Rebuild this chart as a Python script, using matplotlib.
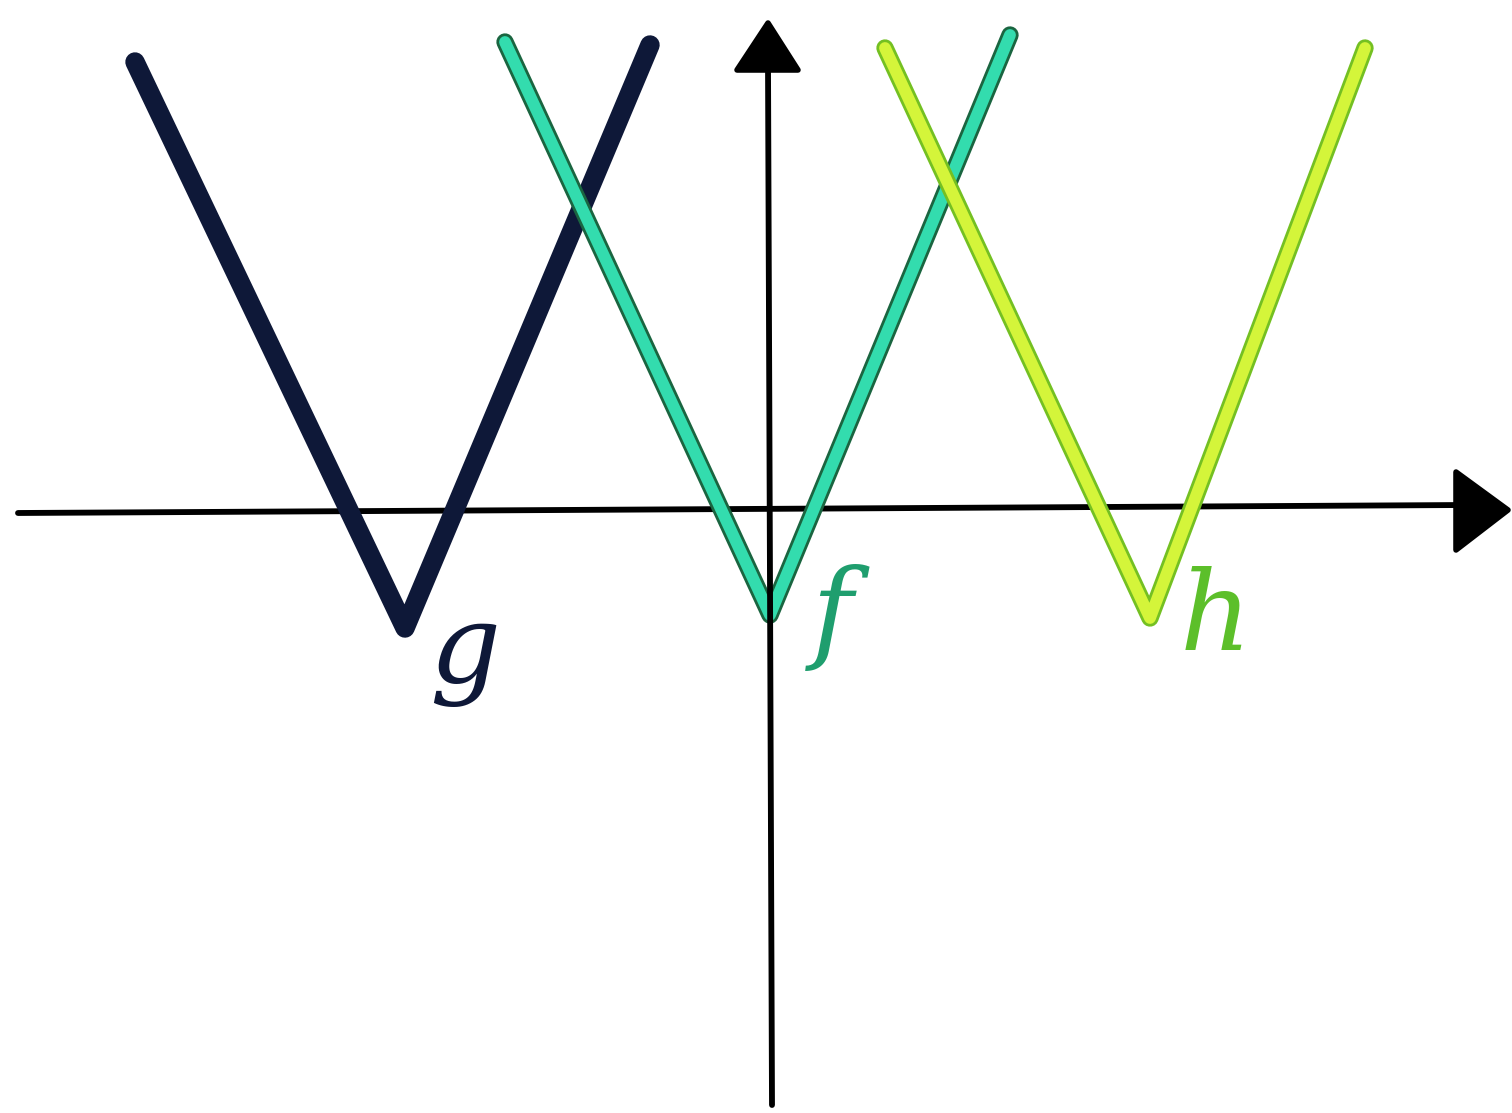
import matplotlib
matplotlib.use("Agg")
import matplotlib.pyplot as plt
import matplotlib.patheffects as pe

# V-shaped graphs (hand-drawn), data units ~ 100 px
g_x = [-6.35, -3.65, -1.20]
g_y = [4.46, -1.20, 4.63]
f_x = [-2.65, 0.00, 2.40]
f_y = [4.66, -1.07, 4.73]
h_x = [1.15, 3.80, 5.95]
h_y = [4.60, -1.10, 4.60]

labels = ["g", "f", "h"]
label_x = [-3.05, 0.62, 4.45]
label_y = [-1.45, -1.10, -1.12]

fig = plt.figure(figsize=(15.12, 11.13), dpi=100)
ax = fig.add_axes([0, 0, 1, 1])
ax.set_xlim(-7.70, 7.42)
ax.set_ylim(-6.05, 5.08)
ax.axis("off")

# axes
ax.plot([-7.52, 6.95], [-0.05, 0.03], color="black", lw=4.2, solid_capstyle="round", zorder=1)
ax.fill([6.86, 7.38, 6.86], [0.36, -0.02, -0.42], color="black", lw=4, joinstyle="round",
        edgecolor="black", zorder=1)
ax.plot([0.02, -0.02], [-5.97, 4.45], color="black", lw=4.2, solid_capstyle="round", zorder=5)
ax.fill([-0.33, -0.02, 0.28], [4.38, 4.85, 4.38], color="black", lw=4, joinstyle="round",
        edgecolor="black", zorder=5)

# g
ax.plot(g_x, g_y, color="#0e1838", lw=14, solid_capstyle="round", solid_joinstyle="round", zorder=2)
# f
ax.plot(f_x, f_y, color="#33dcae", lw=8.5, solid_capstyle="round", solid_joinstyle="round", zorder=3,
        path_effects=[pe.Stroke(linewidth=12.5, foreground="#1a6540"), pe.Normal()])
# h
ax.plot(h_x, h_y, color="#d4f53a", lw=8.5, solid_capstyle="round", solid_joinstyle="round", zorder=3,
        path_effects=[pe.Stroke(linewidth=12.5, foreground="#74c022"), pe.Normal()])

label_colors = ["#0e1838", "#1f9e6e", "#5cbf2a"]
for t, x, y, c in zip(labels, label_x, label_y, label_colors):
    ax.text(x, y, t, fontsize=80, color=c, style="italic", family="DejaVu Serif",
            ha="center", va="center", zorder=6)

fig.savefig("out.png", dpi=100, facecolor="white")
